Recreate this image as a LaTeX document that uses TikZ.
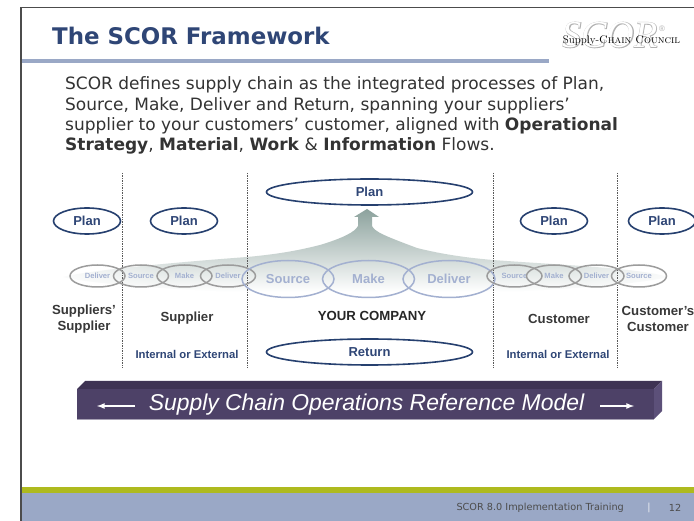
\documentclass[tikz,border=0pt]{standalone}
\usepackage{fontspec}
\usetikzlibrary{chains,shapes.geometric,fadings}
\newfontfamily\verdanafont{DejaVu Sans}
\newfontfamily\arialfont{Liberation Sans}
\newfontfamily\scorbold[FakeBold=3]{Liberation Serif Italic}
\newfontfamily\scorthin{Liberation Serif Italic}
\definecolor{navy}{HTML}{26406F}
\definecolor{titleblue}{HTML}{2F4676}
\definecolor{paleblue}{HTML}{9AA8C6}
\definecolor{linkblue}{HTML}{A3B0D0}
\definecolor{linkgray}{HTML}{9C9C9C}
\definecolor{olive}{HTML}{AEBA1E}
\definecolor{barfront}{HTML}{4D4167}
\definecolor{bartop}{HTML}{3E3353}
\definecolor{barside}{HTML}{5C5079}
\definecolor{arrowtop}{HTML}{8CA29D}
\definecolor{arrowmid}{HTML}{C6D1CE}
\tikzstyle{planoval}=[draw=navy,line width=1.6pt,ellipse,inner sep=0,minimum height=26pt,text=titleblue,
  font=\arialfont\bfseries\fontsize{13}{15}\selectfont]
\tikzstyle{smallplan}=[planoval,minimum width=67pt]
\tikzstyle{wideplan}=[planoval,minimum width=206pt]
\tikzstyle{graylink}=[draw=linkgray,line width=1.5pt,ellipse,inner sep=0,minimum width=55pt,minimum height=22pt,
  text=linkblue,font=\arialfont\bfseries\fontsize{7.6}{9}\selectfont]
\tikzstyle{bluelink}=[draw=linkblue,line width=1.5pt,ellipse,inner sep=0,minimum width=92pt,minimum height=37pt,
  text=linkblue,font=\arialfont\bfseries\fontsize{13}{15}\selectfont]
\tikzstyle{partner}=[align=center,inner sep=0,text=black!78,font=\arialfont\bfseries\fontsize{13.2}{15.5}\selectfont]
\tikzstyle{scope label}=[inner sep=0,text=titleblue,font=\arialfont\bfseries\fontsize{11.3}{13}\selectfont]
\tikzstyle{footnote}=[inner sep=0,text=black!70,font=\verdanafont\fontsize{9.7}{11}\selectfont]
\begin{document}
\begin{tikzpicture}[x=1pt,y=-1pt]
\useasboundingbox (0,0) rectangle (694,521);
% slide frame
\fill[white] (0,0) rectangle (694,521);
\fill[black!70] (20,7) rectangle (694,8.5);
\fill[black!70] (20,7) rectangle (21.5,521);
\fill[paleblue] (21.5,59) rectangle (549,63);
\fill[olive] (21.5,487) rectangle (694,493);
\fill[paleblue] (21.5,493) rectangle (694,521);
\node (title) [anchor=base west,inner sep=0,text=titleblue,font=\verdanafont\bfseries\fontsize{22.9}{26}\selectfont] at (52,45) {The SCOR Framework};
% logo
\node (scoroutline) [inner sep=0,text=black!30,font=\scorbold\fontsize{38}{38}\selectfont] at (610,35) {SCOR};
\node (scorinner) [inner sep=0,text=white,font=\scorthin\fontsize{38}{38}\selectfont] at (610,35) {SCOR};
\node (scorreg) [inner sep=0,text=black!30,font=\arialfont\fontsize{8}{8}\selectfont] at (662,29) {\textregistered};
\node (council) [inner sep=0,text=black,font=\rmfamily\fontsize{11}{12}\selectfont] at (621.5,41) {Supply-\textsc{Chain Council}};
% intro text
\node (intro) [anchor=north west,inner sep=0,align=left,text=black!80,font=\verdanafont\fontsize{17}{20.4}\selectfont] at (65,76.5)
  {SCOR defines supply chain as the integrated processes of Plan,\\
   Source, Make, Deliver and Return, spanning your suppliers’\\
   supplier to your customers’ customer, aligned with \textbf{Operational}\\
   \textbf{Strategy}, \textbf{Material}, \textbf{Work} \& \textbf{Information} Flows.};
% arrow behind the links
\shade[top color=arrowtop,middle color=arrowmid,bottom color=white]
  (367,209) -- (379,217) -- (372,217) -- (372,226)
  .. controls (375,232) and (385,236) .. (417,248)
  .. controls (445,255) and (470,258) .. (493,260)
  .. controls (560,265) and (640,268) .. (668,277)
  .. controls (640,284) and (560,290) .. (498,292)
  -- (242,292)
  .. controls (180,290) and (90,284) .. (63,277)
  .. controls (90,270) and (180,262) .. (247,257)
  .. controls (280,254) and (300,250) .. (320,245)
  .. controls (343,238) and (355,232) .. (358,226)
  -- (358,217) -- (354,217) -- cycle;
\fill[white,path fading=east] (40,250) rectangle (170,296);
\fill[white,path fading=west] (570,250) rectangle (694,296);
% dividers
\foreach \x in {122,247,493,617}
  \draw[black!65,line width=0.7pt,densely dotted] (\x,173) -- (\x,367);
% plan ovals
\node (planA) [smallplan] at (87,221) {Plan};
\node (planB) [smallplan] at (184,221) {Plan};
\node (planC) [smallplan] at (554,221) {Plan};
\node (planD) [smallplan] at (662,221) {Plan};
\node (planMain) [wideplan] at (369.5,192) {Plan};
\node (returnMain) [wideplan] at (369.5,352) {Return};
% links, left side
\begin{scope}[start chain=1 going right,node distance=-13pt]
    \node [on chain=1,graylink,at={(97.5,276)}] {Deliver};
    \node [on chain=1,graylink] {Source};
    \node [on chain=1,graylink] {Make};
    \node [on chain=1,graylink] {Deliver};
\end{scope}
% links, your company
\begin{scope}[start chain=2 going right,node distance=-13pt]
    \node [on chain=2,bluelink,at={(288,279)}] {Source};
    \node [on chain=2,bluelink] {Make};
    \node [on chain=2,bluelink] {Deliver};
\end{scope}
% links, right side
\begin{scope}[start chain=3 going right,node distance=-14pt]
    \node [on chain=3,graylink,at={(514.5,276)}] {Source};
    \node [on chain=3,graylink,xshift=-3pt] {Make};
    \node [on chain=3,graylink] {Deliver};
    \node [on chain=3,graylink] {Source};
\end{scope}
% who is who
\node (suppliers) [partner] at (84,319) {Suppliers’\\Supplier};
\node (supplier) [partner] at (187,318.5) {Supplier};
\node (company) [partner,text=black!85] at (372,316) {YOUR COMPANY};
\node (customer) [partner] at (559,318.5) {Customer};
\node (customers) [partner] at (658,319) {Customer’s\\Customer};
\node (scopeA) [scope label] at (187,354) {Internal or External};
\node (scopeB) [scope label] at (558,354) {Internal or External};
% reference model bar
\fill[bartop] (77,389) -- (85,381) -- (662,381) -- (654,389) -- cycle;
\fill[barside] (654,389) -- (662,381) -- (662,411) -- (654,419) -- cycle;
\fill[barfront] (77,389) rectangle (654,419);
\fill[barfront!50!white] (77,419) rectangle (654,420);
\node (model) [inner sep=0,text=white,font=\arialfont\itshape\fontsize{22.9}{26}\selectfont] at (366.5,405) {Supply Chain Operations Reference Model};
\coordinate (leftA) at (135,406);
\coordinate (leftB) at (97,406);
\coordinate (rightA) at (600,406);
\coordinate (rightB) at (634,406);
\draw[white,line width=1.6pt,-latex] (leftA) -- (leftB);
\draw[white,line width=1.6pt,-latex] (rightA) -- (rightB);
% footer
\node (footer) [footnote,anchor=east] at (624,508) {SCOR 8.0 Implementation Training};
\node (footbar) [footnote,text=white!85!paleblue] at (649,508) {|};
\node (pagenum) [footnote] at (675,508) {12};
\end{tikzpicture}
\end{document}
